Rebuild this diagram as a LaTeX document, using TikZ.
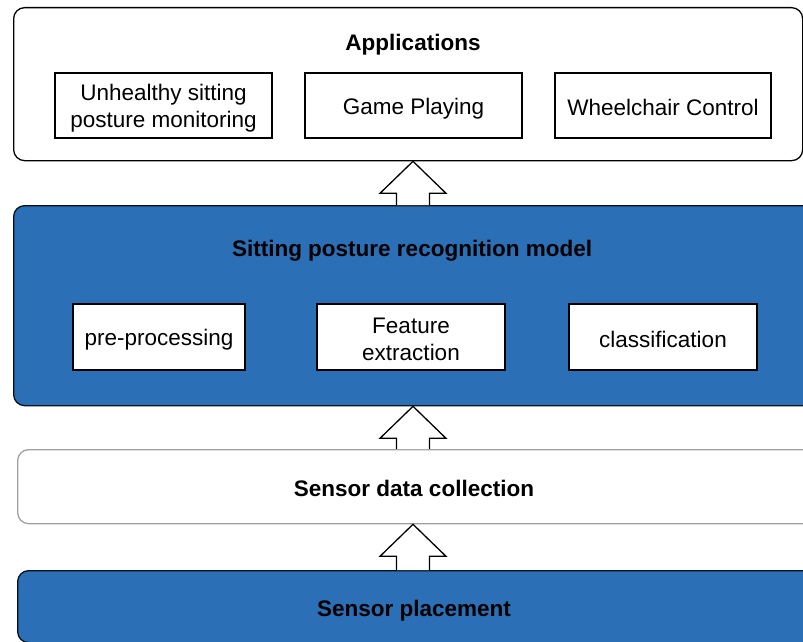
\documentclass[tikz,border=0pt]{standalone}
\usepackage{fontspec}
\setmainfont{Liberation Sans}
\usetikzlibrary{calc}
\definecolor{layerblue}{RGB}{43,111,182}
\definecolor{softgray}{RGB}{160,160,160}
\newcommand\lnst{\rule[-2pt]{0pt}{24pt}}
\tikzset{
  layer/.style={draw=black, line width=1.3pt, rounded corners=11pt, anchor=north west, inner sep=0pt},
  bluelayer/.style={layer, fill=layerblue, draw=black!85!layerblue},
  graylayer/.style={layer, draw=softgray, fill=white},
  inbox/.style={draw=black, line width=1.2pt, fill=white, inner sep=0pt, align=center, font=\fontsize{22.5}{27}\selectfont},
  ttl/.style={font=\fontsize{22.5}{27}\selectfont\bfseries},
  blockarr/.style={draw=black, line width=1.3pt, fill=white, line join=miter}
}
\begin{document}
\begin{tikzpicture}[x=1pt,y=-1pt]
\useasboundingbox (0,0) rectangle (803,642);
\clip (0,0) rectangle (803,642);
\fill[white] (0,0) rectangle (803,642);
\coordinate (ax) at (413,0);
% layers
\node[layer, fill=white, minimum width=789pt, minimum height=153pt] (apps) at (13,7) {};
\node[bluelayer, minimum width=810pt, minimum height=200pt] (model) at (13,205) {};
\node[graylayer, minimum width=810pt, minimum height=74pt] (collect) at (17,449) {};
\node[bluelayer, minimum width=810pt, minimum height=72pt] (place) at (17,570) {};
% titles
\node[ttl] (appsT) at (413,45) {Applications};
\node[ttl] (modelT) at (412,251) {Sitting posture recognition model};
\node[ttl] (collectT) at (414,488) {Sensor data collection};
\node[ttl] (placeT) at (414,611) {Sensor placement};
% application boxes
\node[inbox, minimum width=217pt, minimum height=65pt] (unh) at (163.5,105.5) {\lnst Unhealthy sitting\\\lnst posture monitoring};
\node[inbox, minimum width=217pt, minimum height=65pt] (game) at (413.5,105.5) {\lnst Game Playing};
\node[inbox, minimum width=216pt, minimum height=65pt] (wheel) at (663,105.5) {\lnst Wheelchair Control};
% model boxes
\node[inbox, minimum width=172pt, minimum height=66pt] (pre) at (159,337) {\lnst pre-processing};
\node[inbox, minimum width=188pt, minimum height=66pt] (feat) at (411,337) {\lnst Feature\\\lnst extraction};
\node[inbox, minimum width=188pt, minimum height=66pt] (cls) at (663,337) {\lnst classification};
% block arrows
\foreach \lo/\hi in {model/apps, collect/model, place/collect}{
  \draw[blockarr] ($(ax |- \lo.north)+(-16.5,0)$) -- ($(ax |- \hi.south)+(-16.5,32)$)
    -- ($(ax |- \hi.south)+(-33,32)$) -- (ax |- \hi.south)
    -- ($(ax |- \hi.south)+(33,32)$) -- ($(ax |- \hi.south)+(16.5,32)$)
    -- ($(ax |- \lo.north)+(16.5,0)$);
}
\end{tikzpicture}
\end{document}
